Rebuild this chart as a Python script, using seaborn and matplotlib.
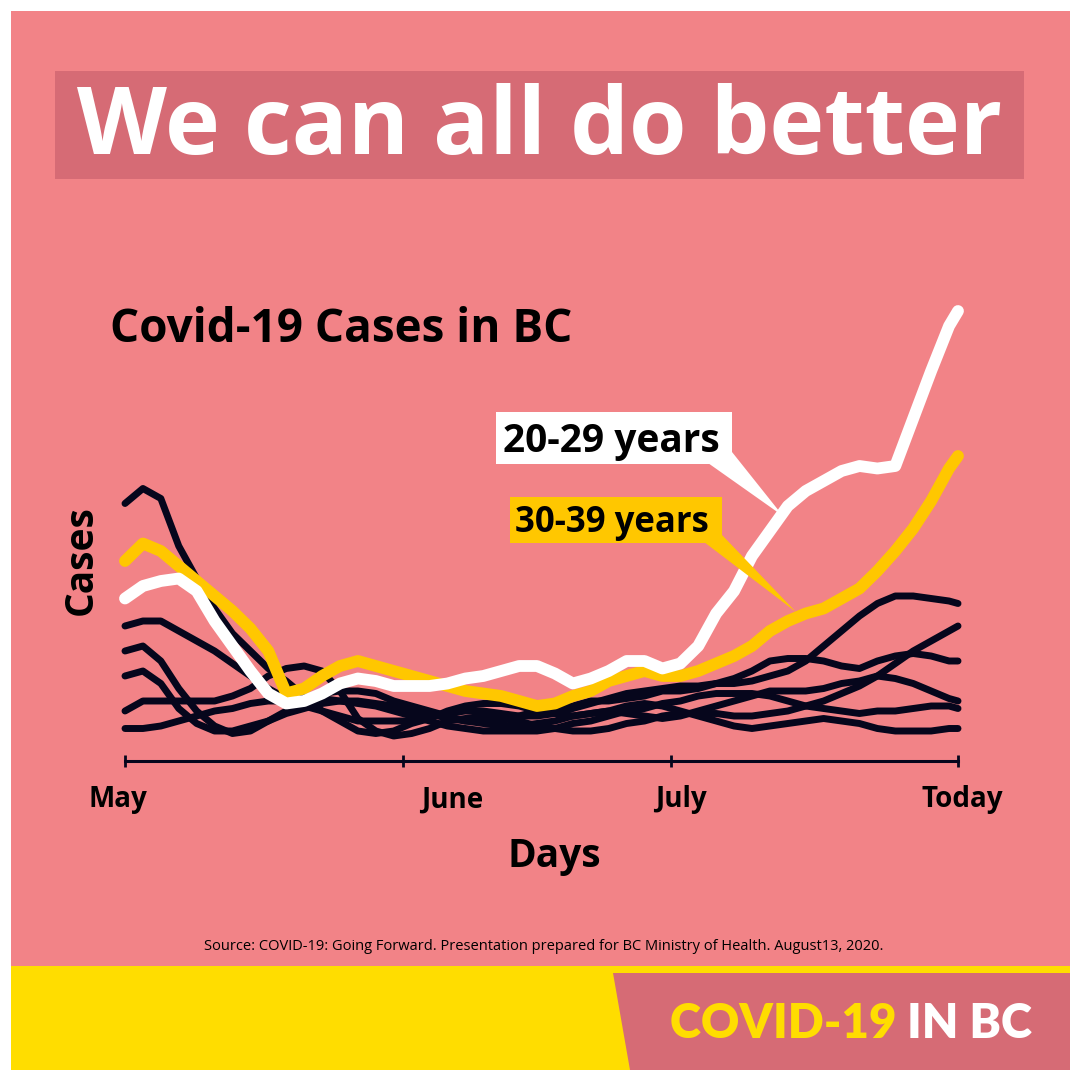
import matplotlib
matplotlib.use("Agg")
import matplotlib.pyplot as plt
import matplotlib.transforms as mtransforms
from matplotlib.patches import Rectangle, Polygon
import numpy as np
import pandas as pd
import seaborn as sns

# colours
PINK = "#F28387"
DARK_PINK = "#D66B75"
YELLOW = "#FFDD00"
GOLD = "#FFC700"
NAVY = "#06061C"

# days since May 1, every 2 days up to "today"
days = list(range(0, 93, 2)) + [93]

# case curves
cases_20_29 = [65, 70, 72, 73, 68, 56, 46, 36, 27, 23, 24, 27, 31, 33, 32, 30,
               30, 30, 31, 33, 34, 36, 38, 38, 35, 31, 33, 36, 40, 40, 37, 39,
               46, 59, 68, 82, 92, 102, 108, 112, 116, 118, 117, 118, 137, 156,
               174, 180]
cases_30_39 = [80, 87, 84, 78, 72, 66, 60, 53, 44, 27, 29, 34, 38, 40, 38, 36,
               34, 32, 30, 28, 27, 26, 24, 22, 23, 26, 28, 32, 34, 36, 34, 34,
               36, 39, 42, 46, 52, 56, 59, 61, 65, 69, 76, 84, 93, 104, 117, 122]
other_a = [103, 109, 105, 86, 73, 61, 51, 44, 37, 32, 26, 20, 16, 12, 11, 12,
           15, 17, 20, 22, 23, 23, 22, 20, 19, 18, 19, 20, 22, 23, 22, 20,
           18, 16, 14, 13, 14, 15, 16, 17, 16, 15, 13, 12, 12, 12, 13, 13]
other_b = [54, 56, 56, 52, 48, 44, 39, 34, 29, 25, 22, 20, 18, 16, 16, 16,
           16, 18, 19, 20, 20, 19, 18, 18, 19, 21, 23, 25, 27, 28, 29, 30,
           30, 31, 31, 32, 34, 36, 40, 46, 52, 58, 63, 66, 66, 65, 64, 63]
other_c = [44, 46, 40, 29, 20, 14, 11, 12, 16, 20, 24, 27, 28, 28, 27, 24,
           22, 20, 18, 16, 16, 16, 18, 20, 21, 22, 24, 24, 25, 26, 28, 28,
           29, 31, 33, 36, 40, 41, 41, 40, 38, 37, 40, 42, 43, 42, 40, 40]
other_d = [34, 36, 31, 21, 15, 12, 12, 14, 16, 19, 21, 23, 24, 24, 23, 22,
           20, 19, 17, 16, 15, 14, 14, 15, 16, 18, 19, 20, 19, 18, 17, 18,
           20, 22, 24, 26, 28, 28, 28, 29, 31, 32, 34, 33, 31, 28, 25, 24]
other_e = [20, 24, 24, 24, 24, 24, 26, 29, 34, 37, 38, 36, 28, 17, 12, 10,
           11, 13, 16, 17, 18, 17, 16, 14, 13, 12, 12, 13, 15, 16, 18, 19,
           19, 19, 18, 18, 19, 20, 22, 24, 27, 30, 34, 39, 44, 48, 52, 54]
other_f = [13, 13, 14, 16, 18, 20, 21, 23, 24, 24, 25, 25, 24, 23, 22, 20,
           18, 16, 14, 13, 12, 12, 12, 12, 13, 15, 16, 18, 20, 21, 23, 24,
           26, 27, 27, 27, 26, 24, 22, 21, 20, 19, 20, 20, 21, 22, 22, 21]

month_labels = ["May", "June", "July", "Today"]
month_days = [0, 31, 61, 93]
label_shift_px = [-7, 50, 9, 4]   # labels sit a little off their ticks

others = pd.DataFrame({
    "day": days * 6,
    "cases": other_a + other_b + other_c + other_d + other_e + other_f,
    "group": sum([[g] * len(days) for g in "abcdef"], []),
})
young = pd.DataFrame({"day": days, "cases": cases_20_29})
thirties = pd.DataFrame({"day": days, "cases": cases_30_39})

sns.set_theme(style="white")
plt.rcParams["font.family"] = ["Open Sans", "DejaVu Sans"]

fig = plt.figure(figsize=(10.8, 10.8), dpi=100)
fig.patch.set_facecolor("white")

# background in pixel coordinates
bg = fig.add_axes([0, 0, 1, 1], zorder=0)
bg.set_xlim(0, 1080)
bg.set_ylim(1080, 0)
bg.axis("off")
bg.add_patch(Rectangle((11, 11), 1059, 1059, color=PINK, lw=0))
bg.add_patch(Rectangle((55, 71), 969, 108, color=DARK_PINK, lw=0))
bg.add_patch(Rectangle((11, 966), 1059, 104, color=YELLOW, lw=0))
bg.add_patch(Polygon([(613, 973), (1070, 973), (1070, 1070), (630, 1070)],
                     closed=True, color=DARK_PINK, lw=0))
bg.text(540, 154, "We can all do better", color="white", fontsize=67,
        fontweight="bold", ha="center", va="baseline")
bg.text(110, 342, "Covid-19 Cases in BC", color="black", fontsize=33,
        fontweight="bold", ha="left", va="baseline")
bg.text(544, 950, "Source: COVID-19: Going Forward. Presentation prepared for "
        "BC Ministry of Health. August13, 2020.", color="black", fontsize=10.5,
        ha="center", va="baseline")
t1 = bg.text(670, 1038, "COVID-19 ", color=YELLOW, fontsize=34,
             fontweight="heavy", family=["Lato", "DejaVu Sans"],
             ha="left", va="baseline")
fig.canvas.draw()
x_end = t1.get_window_extent().x1
bg.text(x_end, 1080 - 1038, "IN BC", color="white", fontsize=34,
        fontweight="heavy", family=["Lato", "DejaVu Sans"],
        ha="left", va="baseline", transform=None)

# main chart
ax = fig.add_axes([125 / 1080, (1080 - 761) / 1080, 833 / 1080, 461 / 1080],
                  zorder=2)
ax.set_facecolor("none")
line_kw = dict(solid_capstyle="round", solid_joinstyle="round", clip_on=False)
sns.lineplot(data=others, x="day", y="cases", hue="group",
             palette=[NAVY] * 6, lw=5, legend=False, ax=ax, **line_kw)
sns.lineplot(data=thirties, x="day", y="cases", color=GOLD, lw=8.5, ax=ax,
             **line_kw)
sns.lineplot(data=young, x="day", y="cases", color="white", lw=8.5, ax=ax,
             **line_kw)

for s in ["top", "right", "left"]:
    ax.spines[s].set_visible(False)
ax.spines["bottom"].set_color(NAVY)
ax.spines["bottom"].set_linewidth(2.2)
ax.set_yticks([])
ax.set_xticks(month_days)
ax.set_xticklabels(month_labels, fontsize=20, fontweight="bold",
                   color="black")
ax.tick_params(axis="x", direction="inout", length=9, width=2, color=NAVY,
               bottom=True, pad=13)
for lab, dx in zip(ax.get_xticklabels(), label_shift_px):
    lab.set_transform(lab.get_transform() + mtransforms.ScaledTranslation(
        dx / 100, 0, fig.dpi_scale_trans))
ax.set_xlim(0, 93)
ax.set_ylim(0, 184.4)
ax.set_xlabel("Days", fontsize=28, fontweight="bold", color="black")
ax.xaxis.set_label_coords(0.515, -0.165)
ax.set_ylabel("Cases", fontsize=28, fontweight="bold", color="black")
ax.yaxis.set_label_coords(-0.029, 0.436)

# callouts
top = fig.add_axes([0, 0, 1, 1], zorder=5)
top.set_xlim(0, 1080)
top.set_ylim(1080, 0)
top.axis("off")
top.add_patch(Rectangle((496, 412), 236, 52, color="white", lw=0))
top.add_patch(Polygon([(708, 463), (732, 452), (783, 516)], closed=True,
                      color="white", lw=0))
top.text(503, 452, "20-29 years", color="black", fontsize=28,
         fontweight="bold", ha="left", va="baseline")
top.add_patch(Rectangle((510, 497), 212, 46, color=GOLD, lw=0))
top.add_patch(Polygon([(704, 542), (722, 535), (796, 612)], closed=True,
                      color=GOLD, lw=0))
top.text(515, 532, "30-39 years", color="black", fontsize=25,
         fontweight="bold", ha="left", va="baseline")

fig.savefig("out.png", dpi=100, facecolor="white")
